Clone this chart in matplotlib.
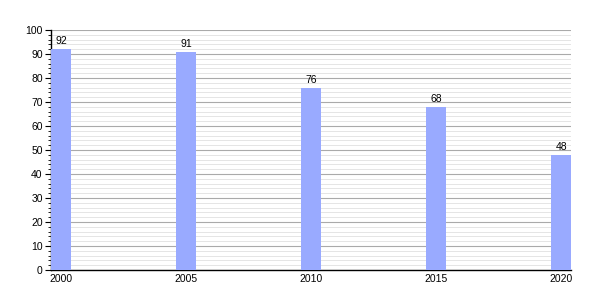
import matplotlib
matplotlib.use("Agg")
import matplotlib.pyplot as plt
from matplotlib.ticker import MultipleLocator

years = [2000, 2005, 2010, 2015, 2020]
values = [92, 91, 76, 68, 48]

plt.rcParams['font.family'] = ['Liberation Sans', 'DejaVu Sans']
fig = plt.figure(figsize=(6, 3), dpi=100)
ax = fig.add_axes([0.085, 0.1, 0.867, 0.8])

ax.bar(years, values, width=0.8, color='#99aaff', zorder=3)
for x, v in zip(years, values):
    ax.text(x, v + 1.2, str(v), ha='center', va='bottom', fontsize=7.5, zorder=4)

ax.set_xlim(2000 - 0.4, 2020 + 0.4)
ax.set_ylim(0, 100)
ax.set_xticks(years)
ax.set_xticklabels([str(y) for y in years])
ax.yaxis.set_major_locator(MultipleLocator(10))
ax.yaxis.set_minor_locator(MultipleLocator(2))
ax.grid(axis='y', which='major', color='#aaaaaa', linewidth=0.8, zorder=1)
ax.grid(axis='y', which='minor', color='#e0e0e0', linewidth=0.6, zorder=0)
ax.tick_params(axis='x', length=0, labelsize=7.5, pad=3)
ax.tick_params(axis='y', which='major', length=4, labelsize=7.5, pad=2)
ax.tick_params(axis='y', which='minor', length=2)
for s in ['top', 'right']:
    ax.spines[s].set_visible(False)
ax.spines['left'].set_linewidth(1)
ax.spines['bottom'].set_linewidth(1)

fig.savefig('out.png', dpi=100)
